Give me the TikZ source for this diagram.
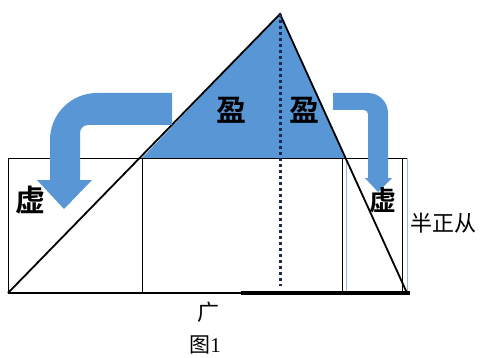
\documentclass[tikz,border=0pt]{standalone}
\usepackage{fontspec}
\newfontfamily\cjk{Noto Sans CJK SC}
\newfontfamily\cjkb{Noto Sans CJK SC Bold}
\setmainfont{Liberation Serif}
\definecolor{fillblue}{RGB}{88,150,214}
\definecolor{paleblue}{RGB}{150,185,220}
\definecolor{navy}{RGB}{30,40,80}
\tikzset{
  thinline/.style={draw=black, line width=0.9pt},
  edgeline/.style={draw=black, line width=1.8pt},
  bluearrow/.style={fill=fillblue, draw=none},
  bigchar/.style={inner sep=0pt, font=\cjkb\fontsize{30}{30}\selectfont},
  label/.style={inner sep=0pt, font=\cjk\fontsize{22}{22}\selectfont},
}
\begin{document}
\begin{tikzpicture}[x=1pt,y=-1pt]
\useasboundingbox (0,0) rectangle (481,358);
% key points
\coordinate (apex) at (280,14);
\coordinate (bl) at (8,293);
\coordinate (br) at (407,293);
\coordinate (tl) at (8,158);
\coordinate (tr) at (407,158);
\coordinate (tL) at (142,158);
\coordinate (tR) at (345,158);
\coordinate (bL) at (142,293);
\coordinate (thickstart) at (241,293);
\coordinate (thickend) at (410,293);
\coordinate (dotend) at (280,286);
% blue triangle above the rectangle
\fill[fillblue] (tL) -- (apex) -- (tR) -- cycle;
% rectangle and inner lines
\draw[thinline] (bl) -- (tl) -- (tr);
\draw[thinline] (tL) -- (bL);
\draw[thinline] (342,158) -- (342,293);
\draw[paleblue, line width=0.9pt] (346,158) -- (346,293);
\draw[thinline] (402,158) -- (402,293);
\draw[paleblue, line width=0.9pt] (407,158) -- (407,293);
\draw[thinline, line width=1.2pt] (bl) -- (thickstart);
\draw[black, line width=3.2pt] (thickstart) -- (thickend);
% triangle edges
\draw[edgeline] (bl) -- (apex) -- (br);
% dotted height
\draw[navy, line width=3pt, dash pattern=on 3pt off 3pt] (apex) -- (dotend);
% left curved arrow
\fill[bluearrow] (172,93) -- (97,93) arc[start angle=-90, end angle=-180, radius=47] -- (50,180) -- (37,180) -- (64,209) -- (92,180) -- (80,180) -- (80,133) arc[start angle=180, end angle=270, radius=8] -- (172,125) -- cycle;
% right curved arrow
\fill[bluearrow] (333,93) -- (368,93) arc[start angle=-90, end angle=0, radius=20] -- (388,178) -- (392,178) -- (378,192) -- (365,178) -- (368,178) -- (368,114) arc[start angle=0, end angle=-90, radius=4] -- (333,110) -- cycle;
% texts
\node[bigchar] (xuL) at (31,200) {虚};
\node[bigchar] (ying1) at (231,110) {盈};
\node[bigchar] (ying2) at (304,110) {盈};
\node[bigchar, font=\cjkb\fontsize{27}{27}\selectfont] (xuR) at (383,200) {虚};
\node[label] (bzc) at (443,223) {半正从};
\node[label] (guang) at (208,312) {广};
\node[inner sep=0pt, font=\fontsize{21}{21}\selectfont] (fig) at (205,345) {{\cjk 图}1};
\end{tikzpicture}
\end{document}
